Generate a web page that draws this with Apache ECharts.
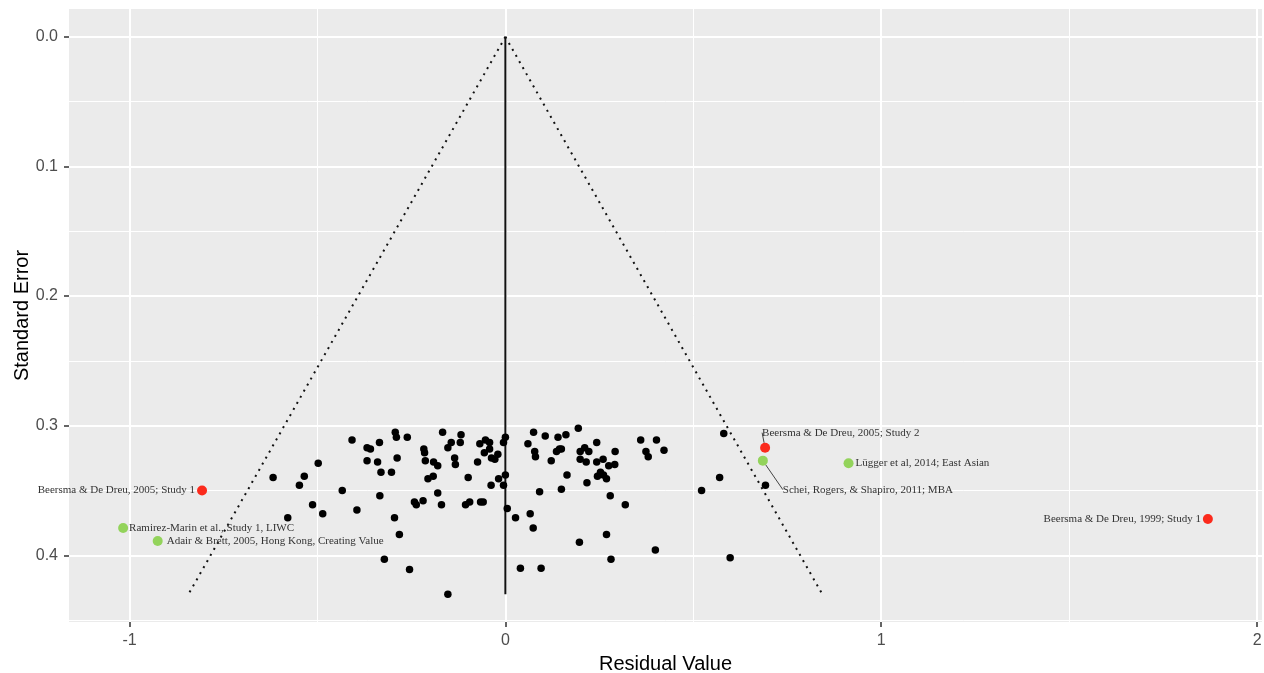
<!DOCTYPE html>
<html><head><meta charset="utf-8">
<script src="https://cdn.jsdelivr.net/npm/echarts@6/dist/echarts.min.js"></script>
<style>html,body{margin:0;padding:0;background:#fff}#c{width:1264px;height:673px}</style>
</head><body><div id="c"></div><script>
// ---- data ----
const residual = [
 -0.618,-0.579,-0.548,-0.535,-0.513,-0.498,-0.486,-0.434,-0.408,-0.395,
 -0.368,-0.359,-0.335,-0.368,-0.340,-0.331,-0.334,-0.322,-0.303,-0.293,
 -0.290,-0.261,-0.288,-0.295,-0.282,-0.255,-0.217,-0.215,-0.213,-0.191,
 -0.180,-0.192,-0.206,-0.180,-0.242,-0.237,-0.219,-0.170,-0.167,-0.153,
 -0.144,-0.120,-0.118,-0.135,-0.133,-0.153,-0.099,-0.106,-0.095,-0.074,
 -0.068,-0.053,-0.042,-0.056,-0.042,-0.020,-0.037,-0.028,-0.066,-0.059,
 -0.038,-0.018,-0.005,0.000,-0.005,0.000,0.005,0.027,0.040,0.060,
 0.075,0.078,0.080,0.106,0.140,0.161,0.194,0.122,0.136,0.144,
 0.149,0.164,0.149,0.091,0.066,0.074,0.095,0.199,0.211,0.222,
 0.243,0.292,0.199,0.215,0.243,0.260,0.275,0.291,0.253,0.245,
 0.269,0.217,0.279,0.319,0.269,0.197,0.281,0.360,0.374,0.380,
 0.402,0.422,0.399,0.581,0.570,0.522,0.692,0.598,0.261
];
const stdError = [
 0.340,0.371,0.346,0.339,0.361,0.329,0.368,0.350,0.311,0.365,
 0.317,0.318,0.313,0.327,0.328,0.336,0.354,0.403,0.336,0.305,
 0.309,0.309,0.325,0.371,0.384,0.411,0.318,0.321,0.327,0.328,
 0.331,0.339,0.341,0.352,0.359,0.361,0.358,0.361,0.305,0.317,
 0.313,0.313,0.307,0.325,0.330,0.430,0.340,0.361,0.359,0.328,
 0.314,0.311,0.313,0.321,0.318,0.322,0.325,0.326,0.359,0.359,
 0.346,0.341,0.346,0.338,0.313,0.309,0.364,0.371,0.410,0.314,
 0.305,0.320,0.324,0.308,0.309,0.307,0.302,0.327,0.320,0.318,
 0.318,0.338,0.349,0.351,0.368,0.379,0.410,0.320,0.317,0.320,
 0.313,0.320,0.326,0.328,0.328,0.326,0.331,0.330,0.336,0.339,
 0.341,0.344,0.354,0.361,0.384,0.390,0.403,0.311,0.320,0.324,
 0.311,0.319,0.396,0.306,0.340,0.350,0.346,0.402,0.338
];
const studyNames = [
 'Beersma & De Dreu, 2005; Study 1',
 'Beersma & De Dreu, 2005; Study 2',
 'Beersma & De Dreu, 1999; Study 1',
 'Ramirez-Marin et al., Study 1, LIWC',
 'Adair & Brett, 2005, Hong Kong, Creating Value',
 'Lügger et al, 2014; East Asian',
 'Schei, Rogers, & Shapiro, 2011; MBA'
];
const studyResidual = [-0.807, 0.691, 1.869, -1.017, -0.925, 0.913, 0.685];
const studyStdError = [0.350, 0.317, 0.372, 0.379, 0.389, 0.329, 0.327];
const studyGroup = ['red','red','red','green','green','green','green'];
const funnelSE = [0, 0.43];
const funnelLeft = [0, -0.843];
const funnelRight = [0, 0.843];
const centerResid = [0, 0];
const xTicks = [-1, 0, 1, 2];
const xMinor = [-0.5, 0.5, 1.5];
const yTicks = [0, 0.1, 0.2, 0.3, 0.4];
const yMinor = [0.05, 0.15, 0.25, 0.35, 0.45];

// ---- styles ----
const groupColor = {red: '#fb2a1c', green: '#93d35b'};
const labelStyle = [
 {position: 'left', distance: 2},
 {position: [2, -10], align: 'left', verticalAlign: 'middle', line: true},
 {position: 'left', distance: 2},
 {position: 'right', distance: 1},
 {position: 'right', distance: 4},
 {position: 'right', distance: 2},
 {position: 'right', distance: 5, dx: 10, dy: 29, line: true}
];

const gridLines = [];
xTicks.forEach(v => gridLines.push({xAxis: v, lineStyle: {width: 2}}));
xMinor.forEach(v => gridLines.push({xAxis: v, lineStyle: {width: 1}}));
yTicks.forEach(v => gridLines.push({yAxis: v, lineStyle: {width: 2}}));
yMinor.forEach(v => gridLines.push({yAxis: v, lineStyle: {width: 1}}));

const series = [
 {
  type: 'line', data: [], z: 1, silent: true,
  markLine: {silent: true, z: 1, symbol: ['none','none'], animation: false,
   label: {show: false}, lineStyle: {color: '#ffffff', type: 'solid'}, data: gridLines}
 },
 {
  type: 'line', z: 3, showSymbol: false, silent: true,
  data: funnelSE.map((s, i) => [funnelLeft[i], s]),
  lineStyle: {color: '#111', width: 2, type: [2, 5]}
 },
 {
  type: 'line', z: 3, showSymbol: false, silent: true,
  data: funnelSE.map((s, i) => [funnelRight[i], s]),
  lineStyle: {color: '#111', width: 2, type: [2, 5]}
 },
 {
  type: 'line', z: 3, showSymbol: false, silent: true,
  data: funnelSE.map((s, i) => [centerResid[i], s]),
  lineStyle: {color: '#111', width: 2, type: 'solid'}
 },
 {
  type: 'scatter', z: 4, symbolSize: 7.5,
  itemStyle: {color: '#000', opacity: 1},
  data: residual.map((r, i) => [r, stdError[i]])
 }
];
studyNames.forEach((name, i) => {
  const ls = labelStyle[i];
  const lab = {show: true, formatter: name, position: ls.position, distance: ls.distance,
    fontFamily: 'Liberation Serif', fontSize: 11, color: '#333'};
  if (ls.align) { lab.align = ls.align; lab.verticalAlign = ls.verticalAlign; }
  const s = {
    type: 'scatter', z: 5, symbolSize: 10,
    itemStyle: {color: groupColor[studyGroup[i]], opacity: 1},
    label: lab,
    labelLine: {show: !!ls.line, lineStyle: {color: '#444', width: 1}},
    data: [[studyResidual[i], studyStdError[i]]]
  };
  if (ls.dx || ls.dy) s.labelLayout = {dx: ls.dx || 0, dy: ls.dy || 0};
  series.push(s);
});

const chart = echarts.init(document.getElementById('c'), null, {renderer: 'canvas'});
chart.setOption({
  animation: false,
  backgroundColor: '#ffffff',
  grid: {left: 69, right: 2, top: 9, bottom: 51, show: true, backgroundColor: '#ebebeb', borderWidth: 0,
    containLabel: false, outerBoundsMode: 'none'},
  xAxis: {
    type: 'value', min: -1.161, max: 2.013,
    name: 'Residual Value', nameLocation: 'middle', nameGap: 32, nameMoveOverlap: false,
    nameTextStyle: {fontSize: 20, color: '#000', fontFamily: 'Liberation Sans'},
    axisLine: {show: true, onZero: false, lineStyle: {color: 'rgba(0,0,0,0)', width: 0}},
    axisTick: {show: true, customValues: xTicks, length: 5, lineStyle: {color: '#333', width: 1.5}},
    axisLabel: {customValues: xTicks, color: '#4d4d4d', fontSize: 16, margin: 11, fontFamily: 'Liberation Sans'},
    splitLine: {show: false}, minorSplitLine: {show: false}
  },
  yAxis: {
    type: 'value', inverse: true, min: -0.0215, max: 0.4515,
    name: 'Standard Error', nameLocation: 'middle', nameGap: 37, nameMoveOverlap: false,
    nameTextStyle: {fontSize: 20, color: '#000', fontFamily: 'Liberation Sans'},
    axisLine: {show: true, onZero: false, lineStyle: {color: 'rgba(0,0,0,0)', width: 0}},
    axisTick: {show: true, customValues: yTicks, length: 5, lineStyle: {color: '#333', width: 1.5}},
    axisLabel: {customValues: yTicks, color: '#4d4d4d', fontSize: 16, margin: 11, fontFamily: 'Liberation Sans',
      formatter: v => v.toFixed(1)},
    splitLine: {show: false}, minorSplitLine: {show: false}
  },
  series: series
});
</script></body></html>
